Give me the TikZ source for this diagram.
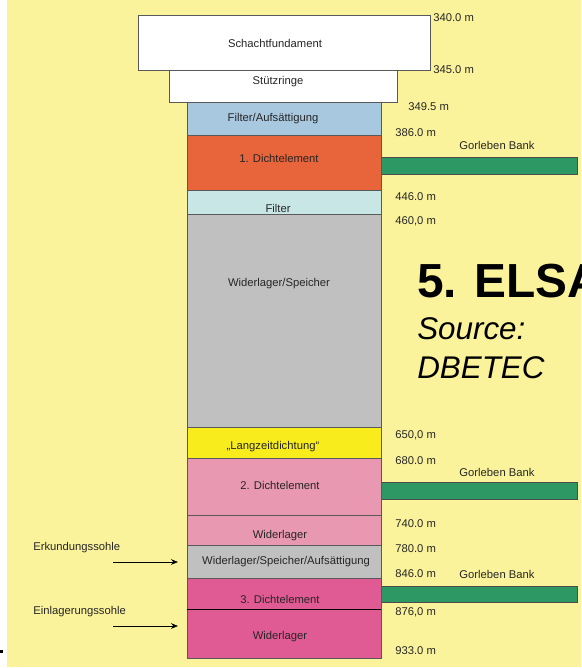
\documentclass[tikz,border=0pt]{standalone}
\usepackage{fontspec}
\setmainfont{Liberation Sans}
\usetikzlibrary{arrows.meta,positioning}

\definecolor{bgyellow}{RGB}{250,243,155}
\definecolor{filterblue}{RGB}{168,200,224}
\definecolor{dichtorange}{RGB}{232,100,58}
\definecolor{filtercyan}{RGB}{200,230,230}
\definecolor{speichergrey}{RGB}{192,192,192}
\definecolor{langyellow}{RGB}{248,236,28}
\definecolor{dichtpink}{RGB}{232,152,176}
\definecolor{dichtmagenta}{RGB}{224,90,148}
\definecolor{bankgreen}{RGB}{46,152,100}

\begin{document}
\begin{tikzpicture}[
    x=0.025cm, y=-0.025cm,
    layer/.style={draw=black!65, line width=0.5pt, rectangle, inner sep=0pt, minimum width=4.85cm},
    headbox/.style={draw=black!65, line width=0.5pt, rectangle, inner sep=0pt, fill=white},
    bank/.style={draw=black!70, line width=0.5pt, rectangle, inner sep=0pt, fill=bankgreen, minimum width=4.9cm},
    txt/.style={font=\fontsize{8}{9.6}\selectfont, text=black!85, inner sep=0pt},
    depth/.style={txt, anchor=west},
    side/.style={txt, anchor=west},
    arrow/.style={-{Stealth[length=5pt,width=4pt]}, line width=0.6pt},
    title/.style={anchor=base west, inner sep=0pt}
]

% Background
\useasboundingbox (0,0) rectangle (581,668);
\fill[bgyellow] (7,0) rectangle (581,667);
\fill[black] (0,650) rectangle (3,653);

% Gorleben Bank bars
\node[bank, minimum height=0.425cm] (bank1) at (479,165.5) {};
\node[bank, minimum height=0.425cm] (bank2) at (479,490.5) {};
\node[bank, minimum height=0.4cm] (bank3) at (479,594) {};

% Shaft head
\node[headbox, minimum width=7.3cm, minimum height=1.375cm] (schacht) at (284,42.5) {};
\node[headbox, minimum width=5.7cm, minimum height=0.8cm] (stuetz) at (283,86) {};

% Shaft column
\node[layer, fill=filterblue, minimum height=0.825cm] (filterauf) at (284,118.5) {};
\node[layer, fill=dichtorange, minimum height=1.375cm] (dicht1) at (284,162.5) {};
\node[layer, fill=filtercyan, minimum height=0.6cm] (filter) at (284,202) {};
\node[layer, fill=speichergrey, minimum height=5.325cm] (speicher) at (284,320.5) {};
\node[layer, fill=langyellow, minimum height=0.775cm] (langzeit) at (284,442.5) {};
\node[layer, fill=dichtpink, minimum height=1.425cm] (dicht2) at (284,486.5) {};
\node[layer, fill=dichtpink, minimum height=0.75cm] (wider2) at (284,530) {};
\node[layer, fill=speichergrey, minimum height=0.825cm] (speicher2) at (284,561.5) {};
\node[layer, fill=dichtmagenta, minimum height=0.775cm] (dicht3) at (284,593.5) {};
\node[layer, fill=dichtmagenta, minimum height=1.225cm] (wider3) at (284,633.5) {};
\draw[black, line width=0.8pt] (dicht3.south west) -- (dicht3.south east);

% Layer texts
\node[txt] (tschacht) at (275,43) {Schachtfundament};
\node[txt] (tstuetz) at (278,82) {Stützringe};
\node[txt] (tfilterauf) at (273,119) {Filter/Aufsättigung};
\node[txt] (tdicht1) at (279,158) {1. Dichtelement};
\node[txt] (tfilter) at (278,208) {Filter};
\node[txt] (tspeicher) at (279,284) {Widerlager/Speicher};
\node[txt] (tlangzeit) at (273,447) {„Langzeitdichtung“};
\node[txt] (tdicht2) at (280,485) {2. Dichtelement};
\node[txt] (twider2) at (280,536) {Widerlager};
\node[txt] (tspeicher2) at (286,562) {Widerlager/Speicher/Aufsättigung};
\node[txt] (tdicht3) at (280,599) {3. Dichtelement};
\node[txt] (twider3) at (280,637) {Widerlager};

% Depths
\node[depth] (d340) at (433,18) {340.0 m};
\node[depth] (d345) at (433,70) {345.0 m};
\node[depth] (d349) at (408,107) {349.5 m};
\node[depth] (d386) at (395,133) {386.0 m};
\node[depth] (d446) at (395,197) {446.0 m};
\node[depth] (d460) at (395,221) {460,0 m};
\node[depth] (d650) at (395,435) {650,0 m};
\node[depth] (d680) at (395,461) {680.0 m};
\node[depth] (d740) at (395,524) {740.0 m};
\node[depth] (d780) at (395,549) {780.0 m};
\node[depth] (d846) at (395,574) {846.0 m};
\node[depth] (d876) at (395,612) {876,0 m};
\node[depth] (d933) at (395,651) {933.0 m};

% Gorleben Bank labels
\node[txt] (gb1) at (497,145) {Gorleben Bank};
\node[txt] (gb2) at (497,472) {Gorleben Bank};
\node[txt] (gb3) at (497,574) {Gorleben Bank};

% Levels on the left
\node[side] (erk) at (33,548) {Erkundungssohle};
\node[side] (einl) at (33,612) {Einlagerungssohle};
\coordinate (erkfrom) at (113,562);
\coordinate (erkto) at (178,562);
\coordinate (einlfrom) at (113,626);
\coordinate (einlto) at (178,626);
\draw[arrow] (erkfrom) -- (erkto);
\draw[arrow] (einlfrom) -- (einlto);

% Title
\node[title, font=\fontsize{34}{40}\selectfont\bfseries] (elsa) at (417,297) {5. ELSA};
\node[title, font=\fontsize{22.3}{27}\selectfont\itshape] (source) at (417,339) {Source:};
\node[title, font=\fontsize{22.3}{27}\selectfont\itshape] (dbetec) at (417,378) {DBETEC};

\end{tikzpicture}
\end{document}
